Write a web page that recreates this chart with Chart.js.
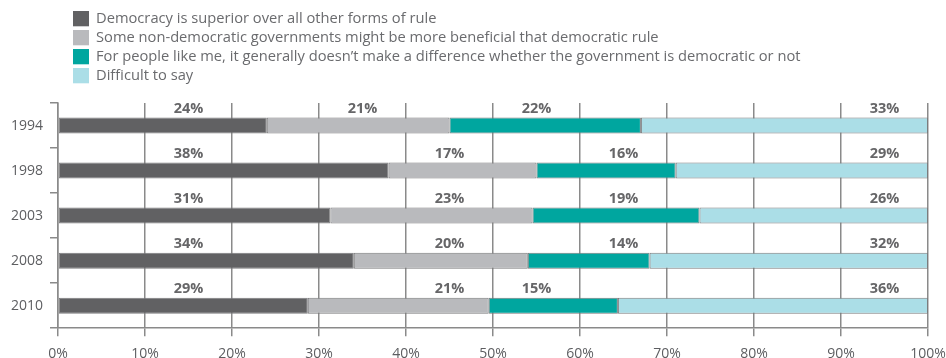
<!DOCTYPE html>
<html>
<head>
<meta charset="utf-8">
<script src="https://cdn.jsdelivr.net/npm/chart.js@4/dist/chart.umd.min.js"></script>
<style>
  html, body { margin: 0; padding: 0; background: #fff; overflow: hidden; }
  canvas { display: block; }
</style>
</head>
<body>
<canvas id="chart" width="946" height="371"></canvas>
<script>
// Survey years (one stacked bar each)
const years = ['1994', '1998', '2003', '2008', '2010'];

// Answer options
const answerLabels = [
  'Democracy is superior over all other forms of rule',
  'Some non-democratic governments might be more beneficial that democratic rule',
  'For people like me, it generally doesn\u2019t make a difference whether the government is democratic or not',
  'Difficult to say'
];

// Shares of respondents, %
const superior      = [24, 38, 31, 34, 29];
const nonDemocratic = [21, 17, 23, 20, 21];
const noDifference  = [22, 16, 19, 14, 15];
const difficult     = [33, 29, 26, 32, 36];

const seriesValues = [superior, nonDemocratic, noDifference, difficult];
const seriesColors = ['#616163', '#b9babd', '#00a69f', '#abdee7'];

// Where each percentage label sits along the value axis (centre of a 10% cell)
const labelAnchors = [
  [15, 15, 15, 15, 15],
  [35, 45, 45, 45, 45],
  [55, 65, 65, 65, 55],
  [95, 95, 95, 95, 95]
];

// Each bar is drawn as a 100% stack: shares are scaled by the row total
const rowTotals = years.map((_, j) => seriesValues.reduce((s, arr) => s + arr[j], 0));

const FONT = '"Open Sans", "DejaVu Sans", sans-serif';
const TEXT_COLOR = '#5d5e61';
const GRID_COLOR = '#8a8a8a';

const valueLabels = {
  id: 'valueLabels',
  afterDatasetsDraw(chart) {
    const ctx = chart.ctx;
    const xScale = chart.scales.x;
    ctx.save();
    ctx.font = 'bold 14.5px ' + FONT;
    ctx.fillStyle = '#666668';
    ctx.textAlign = 'center';
    ctx.textBaseline = 'middle';
    chart.data.datasets.forEach((ds, i) => {
      const meta = chart.getDatasetMeta(i);
      meta.data.forEach((bar, j) => {
        const x = xScale.getPixelForValue(labelAnchors[i][j]);
        const y = bar.y - bar.height / 2 - 8.5;
        ctx.fillText(seriesValues[i][j] + '%', x, y);
      });
    });
    ctx.restore();
  }
};

const stackedLegend = {
  id: 'stackedLegend',
  afterDraw(chart) {
    const ctx = chart.ctx;
    ctx.save();
    ctx.font = '14.7px ' + FONT;
    ctx.textBaseline = 'middle';
    ctx.textAlign = 'left';
    chart.data.datasets.forEach((ds, i) => {
      const top = 11 + i * 19;
      ctx.fillStyle = ds.backgroundColor;
      ctx.fillRect(73, top, 16, 15.3);
      ctx.fillStyle = '#6a6b6e';
      ctx.fillText(ds.label, 96, top + 7.5);
    });
    ctx.restore();
  }
};

new Chart(document.getElementById('chart'), {
  type: 'bar',
  data: {
    labels: years,
    datasets: seriesValues.map((vals, i) => ({
      label: answerLabels[i],
      data: vals.map((v, j) => v / rowTotals[j] * 100),
      backgroundColor: seriesColors[i],
      borderColor: '#7b7b7d',
      borderWidth: 1,
      borderSkipped: false,
      barPercentage: 0.355,
      categoryPercentage: 1
    }))
  },
  options: {
    indexAxis: 'y',
    responsive: false,
    animation: false,
    layout: { padding: { top: 103, right: 18, left: 0, bottom: 0 } },
    plugins: {
      legend: { display: false },
      tooltip: { enabled: false }
    },
    scales: {
      x: {
        stacked: true,
        min: 0,
        max: 100,
        ticks: {
          stepSize: 10,
          callback: v => v + '%',
          font: { family: FONT, size: 14 },
          color: TEXT_COLOR,
          padding: 9,
          maxRotation: 0
        },
        grid: { color: GRID_COLOR, lineWidth: 1.5, tickLength: 8, drawOnChartArea: true },
        border: { color: GRID_COLOR, width: 1.5 },
        afterFit(scale) { scale.paddingLeft = 0; scale.paddingRight = 0; }
      },
      y: {
        stacked: true,
        ticks: {
          font: { family: FONT, size: 14 },
          color: TEXT_COLOR,
          padding: 7
        },
        grid: { color: GRID_COLOR, lineWidth: 1.5, tickLength: 8, drawOnChartArea: false, offset: true },
        border: { color: GRID_COLOR, width: 1.5 },
        afterFit(scale) { scale.width = 58; }
      }
    }
  },
  plugins: [valueLabels, stackedLegend]
});
</script>
</body>
</html>
